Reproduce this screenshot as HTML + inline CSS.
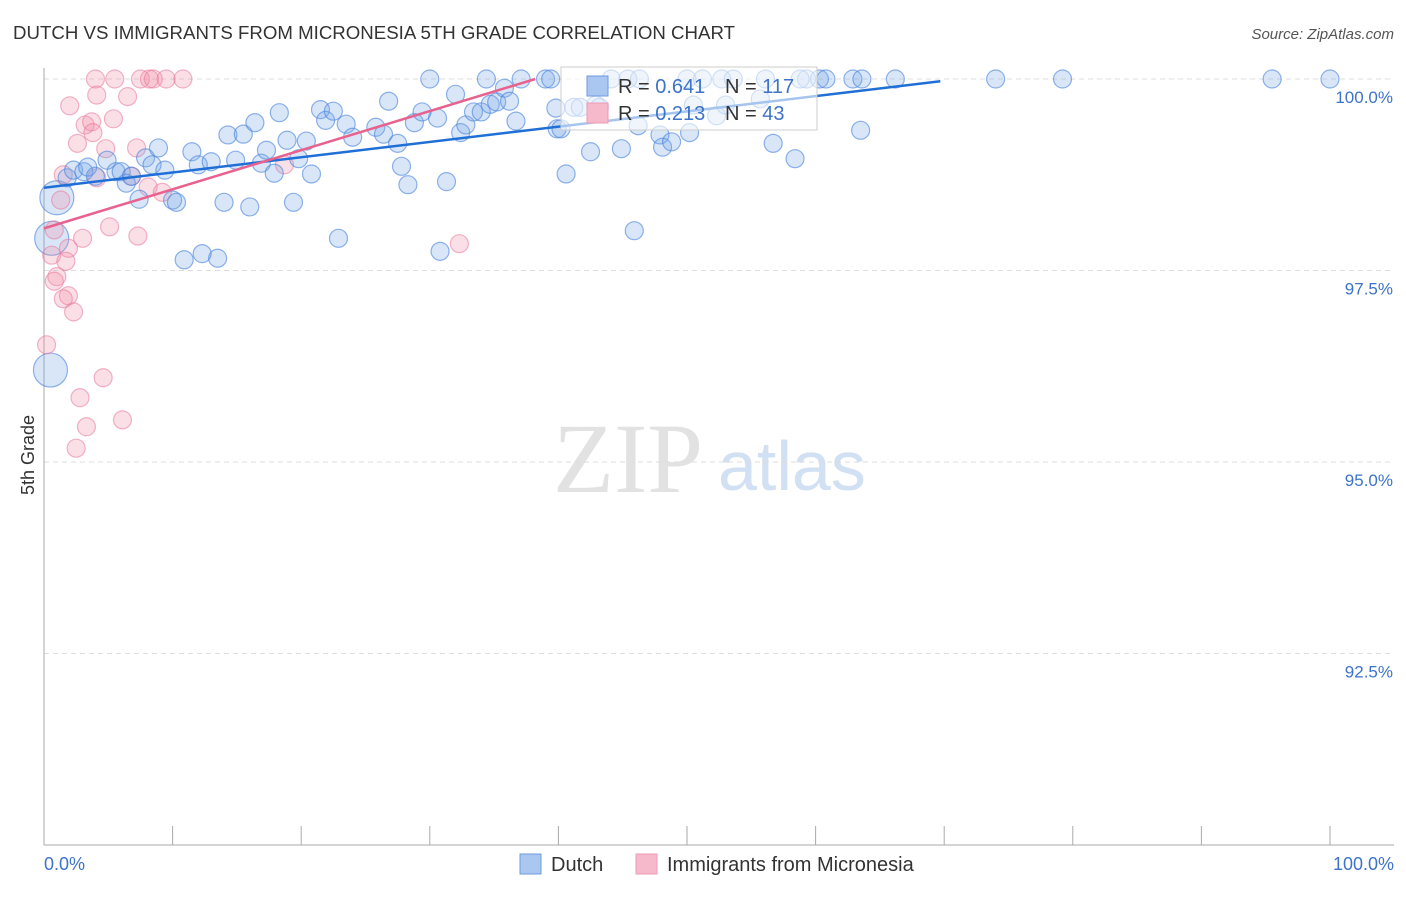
<!DOCTYPE html>
<html><head><meta charset="utf-8"><style>
body{margin:0;background:#fff;font-family:"Liberation Sans",sans-serif}
</style></head><body>
<svg id="chart" width="1406" height="892" xmlns="http://www.w3.org/2000/svg" font-family="Liberation Sans, sans-serif">
<text x="13" y="39" font-size="18" fill="#333" textLength="722" lengthAdjust="spacingAndGlyphs">DUTCH VS IMMIGRANTS FROM MICRONESIA 5TH GRADE CORRELATION CHART</text>
<text x="1394" y="39" font-size="15" fill="#555" text-anchor="end" font-style="italic">Source: ZipAtlas.com</text>
<text x="553" y="492" font-size="100" font-family="Liberation Serif, serif" fill="#e2e2e2">ZIP</text>
<text x="718" y="490" font-size="70" fill="#d2e0f3">atlas</text>
<text transform="translate(34,455) rotate(-90)" font-size="18" fill="#333" text-anchor="middle">5th Grade</text>
<g id="grid"></g><g id="pts"></g><g id="lines"></g>
<g>
<rect x="561" y="67" width="256" height="63" fill="#fff" fill-opacity="0.6" stroke="#ccc"/>
<rect x="587" y="76" width="21" height="20" fill="#a9c7f0" stroke="#6d9be0"/>
<rect x="587" y="103" width="21" height="20" fill="#f6b9cb" stroke="#ee9ab4"/>
<text x="618" y="93" font-size="20" fill="#333">R = <tspan fill="#3d73c9">0.641</tspan></text>
<text x="725" y="93" font-size="20" fill="#333">N = <tspan fill="#3d73c9">117</tspan></text>
<text x="618" y="120" font-size="20" fill="#333">R = <tspan fill="#3d73c9">0.213</tspan></text>
<text x="725" y="120" font-size="20" fill="#333">N = <tspan fill="#3d73c9"> 43</tspan></text>
</g>
<g>
<rect x="520" y="854" width="21" height="20" fill="#a9c7f0" stroke="#6d9be0"/>
<text x="551" y="871" font-size="20" fill="#333">Dutch</text>
<rect x="636" y="854" width="21" height="20" fill="#f6b9cb" stroke="#ee9ab4"/>
<text x="667" y="871" font-size="20" fill="#333">Immigrants from Micronesia</text>
</g>
</svg>
<script>
const yTicks=[100,97.5,95,92.5];
const yTickLabels=["100.0%","97.5%","95.0%","92.5%"];
const xEndLabels=["0.0%","100.0%"];
const dutch=[[1.8,98.71],[2.3,98.81],[3.1,98.79],[3.4,98.85],[4.0,98.73],[4.9,98.94],[5.6,98.79],[6.0,98.79],[6.4,98.64],[6.8,98.73],[7.4,98.43],[7.9,98.97],[8.4,98.88],[8.9,99.10],[9.4,98.81],[10.0,98.42],[10.3,98.39],[10.9,97.64],[11.5,99.05],[12.0,98.88],[12.3,97.72],[13.0,98.92],[13.5,97.66],[14.0,98.39],[14.3,99.27],[14.9,98.94],[15.5,99.28],[16.0,98.33],[16.4,99.43],[16.9,98.90],[17.3,99.07],[17.9,98.77],[18.3,99.56],[18.9,99.20],[19.4,98.39],[19.8,98.96],[20.4,99.19],[20.8,98.76],[21.5,99.60],[21.9,99.46],[22.5,99.58],[22.9,97.92],[23.5,99.41],[24.0,99.24],[25.8,99.37],[26.4,99.28],[26.8,99.71],[27.5,99.16],[27.8,98.86],[28.3,98.62],[28.8,99.43],[29.4,99.57],[30.6,99.49],[31.3,98.66],[30.8,97.75],[32.0,99.80],[32.4,99.30],[32.8,99.40],[33.4,99.57],[34.0,99.57],[34.7,99.67],[35.2,99.70],[35.8,99.88],[36.2,99.71],[36.7,99.45],[30.0,100],[34.4,100],[37.1,100],[39.0,100],[39.4,100],[39.9,99.35],[40.2,99.35],[40.6,98.76],[41.2,99.63],[41.7,99.63],[42.5,99.05],[42.9,99.66],[43.2,99.63],[44.9,99.09],[45.9,98.02],[46.2,99.39],[47.9,99.27],[48.1,99.11],[48.8,99.18],[50.2,99.30],[50.5,99.66],[52.3,99.52],[53.0,99.66],[55.7,99.74],[56.7,99.16],[58.4,98.96],[59.3,100],[60.3,100],[60.8,100],[62.9,100],[63.6,100],[63.5,99.33],[66.2,100],[74.0,100],[79.2,100],[95.5,100],[100,100],[39.8,99.62],[44.1,100],[45.4,100],[46.3,100],[50.0,100],[51.2,100],[52.7,100],[53.6,100],[56.1,100],[58.8,100]];
const dutchBig=[[1.0,98.45],[0.5,96.20],[0.6,97.92]];
const micro=[[4.0,100],[5.5,100],[7.5,100],[8.2,100],[8.5,100],[9.5,100],[10.8,100],[2.0,99.65],[4.1,99.79],[6.5,99.77],[3.2,99.40],[3.7,99.44],[3.8,99.30],[5.4,99.48],[2.6,99.16],[7.2,99.10],[4.8,99.09],[1.5,98.75],[4.1,98.71],[6.8,98.73],[8.1,98.59],[9.2,98.52],[1.3,98.42],[0.8,98.03],[7.3,97.95],[5.1,98.07],[3.0,97.92],[1.9,97.79],[0.6,97.70],[1.7,97.62],[1.0,97.42],[0.8,97.36],[1.9,97.17],[1.5,97.13],[2.3,96.96],[0.2,96.53],[4.6,96.10],[2.8,95.84],[6.1,95.55],[3.3,95.46],[2.5,95.18],[32.3,97.85],[18.7,98.88]];
const dutchTrend=[[0,98.58],[69.7,99.97]];
const microTrend=[[0,98.05],[38.2,100]];
const X=v=>44+v*12.86, Y=v=>79+(100-v)*76.6;
const NS="http://www.w3.org/2000/svg";
function mk(p,t,a){const e=document.createElementNS(NS,t);for(const k in a)e.setAttribute(k,a[k]);p.appendChild(e);return e;}
const grid=document.getElementById('grid');
yTicks.forEach((t,i)=>{
 const l=mk(grid,'line',{x1:44,x2:1394,y1:Y(t),y2:Y(t),stroke:'#ddd','stroke-dasharray':'5,4'});
 
 
 const tx=mk(grid,'text',{x:1393,y:Y(t)+24,'font-size':17,fill:'#3d73c9','text-anchor':'end'});
 tx.textContent=yTickLabels[i];
 
 
});
const ax=mk(grid,'line',{x1:44,x2:44,y1:68,y2:845,stroke:'#aaa'});


const bx=mk(grid,'line',{x1:44,x2:1394,y1:845,y2:845,stroke:'#aaa'});


for(let i=0;i<=10;i++){
 const t=mk(grid,'line',{x1:X(i*10),x2:X(i*10),y1:826,y2:845,stroke:'#aaa'});
 
 
}
[[0,'start'],[100,'end']].forEach((d,i)=>{
 const t=mk(grid,'text',{x:i?1394:44,y:870,'font-size':18,fill:'#3d73c9','text-anchor':d[1]});
 t.textContent=xEndLabels[i];
 
 
});
const pts=document.getElementById('pts');
function dot(d,r,fill,stroke,name){
 const c=mk(pts,'circle',{cx:X(d[0]),cy:Y(d[1]),r:r,fill:fill,stroke:stroke,'stroke-width':1.2});
 
 
}
dutchBig.forEach(d=>dot(d,17,'rgba(120,165,230,0.28)','rgba(70,130,220,0.6)','dutch-point'));
micro.forEach(d=>dot(d,9,'rgba(240,140,170,0.28)','rgba(232,120,155,0.55)','micronesia-point'));
dutch.forEach(d=>dot(d,9,'rgba(120,165,230,0.28)','rgba(70,130,220,0.6)','dutch-point'));
const lines=document.getElementById('lines');
const lb=mk(lines,'line',{x1:X(dutchTrend[0][0]),y1:Y(dutchTrend[0][1]),x2:X(dutchTrend[1][0]),y2:Y(dutchTrend[1][1]),stroke:'#1f6fd6','stroke-width':2.5});


const lp=mk(lines,'line',{x1:X(microTrend[0][0]),y1:Y(microTrend[0][1]),x2:X(microTrend[1][0]),y2:Y(microTrend[1][1]),stroke:'#e8628e','stroke-width':2.5});


</script>
</body></html>
